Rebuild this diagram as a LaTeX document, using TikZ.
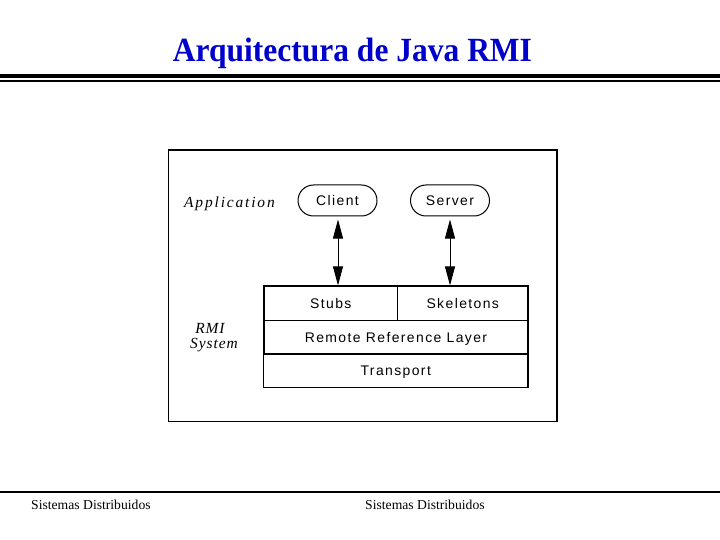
\documentclass[tikz,border=0pt]{standalone}
\usepackage{fontspec}
\setmainfont{Liberation Serif}
\newfontfamily\arialsp[LetterSpace=10]{Liberation Sans}
\newfontfamily\timesitsp[LetterSpace=12]{Liberation Serif}
\newfontfamily\timesit[LetterSpace=6]{Liberation Serif}
\usetikzlibrary{arrows.meta,shapes.misc}
\definecolor{titleblue}{RGB}{0,0,204}
\tikzset{
  layerbox/.style={draw,line width=1.1bp,inner sep=0pt,font=\arialsp\fontsize{14}{16}\selectfont,text height=10bp,text depth=0pt},
  oval/.style={draw,rounded rectangle,line width=1bp,inner sep=0pt,minimum width=79bp,minimum height=31bp,font=\arialsp\fontsize{14}{16}\selectfont,text height=10bp,text depth=0pt},
  dblarrow/.style={line width=1bp,{Triangle[length=19bp,width=10bp]}-{Triangle[length=19bp,width=10bp]}},
  italiclabel/.style={inner sep=0pt,font=\timesitsp\itshape\fontsize{15.5}{17}\selectfont},
  footer/.style={inner sep=0pt,anchor=base west,font=\fontsize{13.7}{15}\selectfont}
}
\begin{document}
\begin{tikzpicture}[x=1bp,y=-1bp]
\useasboundingbox (0,0) rectangle (720,540);
% title
\node[inner sep=0pt,anchor=base,text=titleblue,font=\bfseries\fontsize{34}{36}\selectfont] (title) at (352.5,62) {\scalebox{0.93}[1]{Arquitectura de Java RMI}};
\fill (0,74) rectangle (720,78.5);
\fill (0,80) rectangle (720,82);
% frame
\draw[line width=1.3bp] (168.3,150) rectangle (557,421.7);
% application row
\node[italiclabel,anchor=base west] (app) at (184,208) {Application};
\node[oval] (client) at (337.5,200.5) {Client};
\node[oval] (server) at (450,200.5) {Server};
% layers
\node[layerbox,minimum width=133.5bp,minimum height=34.7bp] (stubs) at (330.75,303.35) {Stubs};
\node[layerbox,minimum width=130.5bp,minimum height=34.7bp] (skel) at (462.75,303.35) {Skeletons};
\node[layerbox,minimum width=264bp,minimum height=33.3bp] (rrl) at (396,337.35) {Remote Reference Layer};
\node[layerbox,minimum width=264.5bp,minimum height=33.7bp] (transport) at (395.75,370.85) {Transport};
% RMI system label
\node[inner sep=0pt,anchor=base,font=\timesit\itshape\fontsize{15.5}{17}\selectfont] (rmi) at (210,333) {RMI};
\node[inner sep=0pt,anchor=base,font=\timesit\itshape\fontsize{15.5}{17}\selectfont] (system) at (214,348) {System};
% arrows
\coordinate (cx) at (338,0);
\coordinate (sx) at (450,0);
\draw[dblarrow,shorten <=3bp] (client.south -| cx) -- (cx |- stubs.north);
\draw[dblarrow,shorten <=3bp] (server.south -| sx) -- (sx |- skel.north);
% footer
\draw[line width=1.3bp] (0,492) -- (720,492);
\node[footer] (f1) at (31,509) {Sistemas Distribuidos};
\node[footer] (f2) at (365,509) {Sistemas Distribuidos};
\end{tikzpicture}
\end{document}
